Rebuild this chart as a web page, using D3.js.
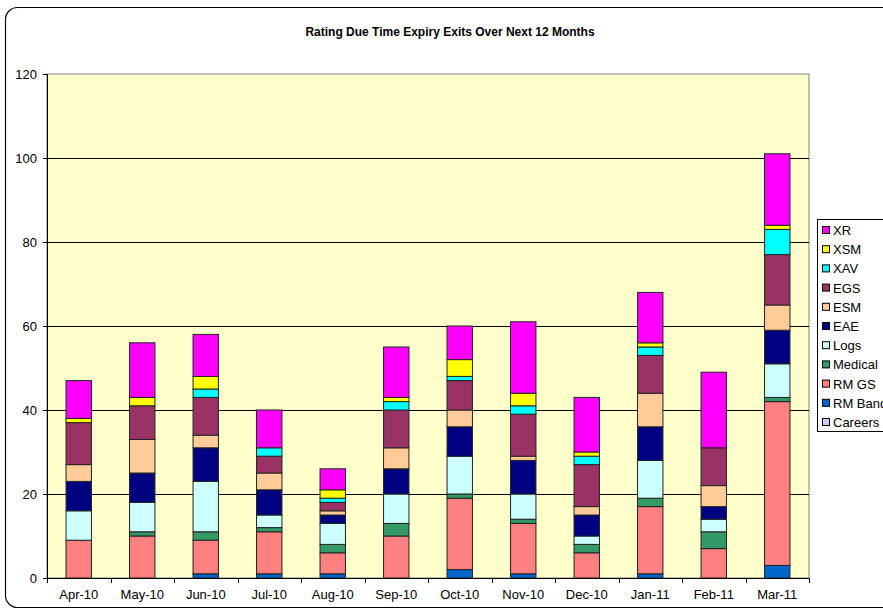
<!DOCTYPE html>
<html>
<head>
<meta charset="utf-8">
<script src="https://cdnjs.cloudflare.com/ajax/libs/d3/7.8.5/d3.min.js"></script>
<style>
  body { margin: 0; background: #fff; }
  svg { display: block; font-family: Arial, "Liberation Sans", sans-serif; }
</style>
</head>
<body>
<svg></svg>
<script>
// данные графика
const months = ["Apr-10", "May-10", "Jun-10", "Jul-10", "Aug-10", "Sep-10",
                "Oct-10", "Nov-10", "Dec-10", "Jan-11", "Feb-11", "Mar-11"];

// серии снизу вверх
const careers = [0, 0, 0, 0, 0, 0, 0, 0, 0, 0, 0, 0];
const rmBand  = [0, 0, 1, 1, 1, 0, 2, 1, 0, 1, 0, 3];
const rmGs    = [9, 10, 8, 10, 5, 10, 17, 12, 6, 16, 7, 39];
const medical = [0, 1, 2, 1, 2, 3, 1, 1, 2, 2, 4, 1];
const logs    = [7, 7, 12, 3, 5, 7, 9, 6, 2, 9, 3, 8];
const eae     = [7, 7, 8, 6, 2, 6, 7, 8, 5, 8, 3, 8];
const esm     = [4, 8, 3, 4, 1, 5, 4, 1, 2, 8, 5, 6];
const egs     = [10, 8, 9, 4, 2, 9, 7, 10, 10, 9, 9, 12];
const xav     = [0, 0, 2, 2, 1, 2, 1, 2, 2, 2, 0, 6];
const xsm     = [1, 2, 3, 0, 2, 1, 4, 3, 1, 1, 0, 1];
const xr      = [9, 13, 10, 9, 5, 12, 8, 17, 13, 12, 18, 17];

const yTicks = [0, 20, 40, 60, 80, 100, 120];

const series = [
  {name: "Careers", values: careers, color: "#CCCCFF"},
  {name: "RM Band", values: rmBand,  color: "#0066CC"},
  {name: "RM GS",   values: rmGs,    color: "#FF8080"},
  {name: "Medical", values: medical, color: "#339966"},
  {name: "Logs",    values: logs,    color: "#CCFFFF"},
  {name: "EAE",     values: eae,     color: "#000080"},
  {name: "ESM",     values: esm,     color: "#FFCC99"},
  {name: "EGS",     values: egs,     color: "#993366"},
  {name: "XAV",     values: xav,     color: "#00FFFF"},
  {name: "XSM",     values: xsm,     color: "#FFFF00"},
  {name: "XR",      values: xr,      color: "#FF00FF"}
];

const width = 883;
const height = 610;
let svg = d3.select("svg")
    .attr("width", width)
    .attr("height", height);

// рамка диаграммы (уходит за правый край)
svg.append("rect")
    .attr("x", 5.5).attr("y", 7.5)
    .attr("width", 910).attr("height", 600)
    .attr("rx", 12)
    .style("fill", "#fff")
    .style("stroke", "#000")
    .style("stroke-width", 1.2);

// заголовок
svg.append("text")
    .attr("x", 450).attr("y", 36)
    .attr("text-anchor", "middle")
    .style("font-size", "12px")
    .style("font-weight", "bold")
    .text("Rating Due Time Expiry Exits Over Next 12 Months");

const plot = {left: 47, top: 74, right: 809, bottom: 578};

let x = d3.scaleBand()
    .domain(months)
    .range([plot.left, plot.right])
    .paddingInner(0.6)
    .paddingOuter(0.3);

let y = d3.scaleLinear()
    .domain([0, 120])
    .range([plot.bottom, plot.top]);

// фон области построения
svg.append("rect")
    .attr("x", plot.left).attr("y", plot.top)
    .attr("width", plot.right - plot.left)
    .attr("height", plot.bottom - plot.top)
    .style("fill", "#FFFFCC")
    .style("stroke", "#808080")
    .style("stroke-width", 1);

// линии сетки
svg.append("g")
    .selectAll("line")
    .data(yTicks.filter(d => d > 0 && d < 120))
    .join("line")
    .attr("x1", plot.left).attr("x2", plot.right)
    .attr("y1", d => Math.round(y(d)) + 0.5)
    .attr("y2", d => Math.round(y(d)) + 0.5)
    .style("stroke", "#000")
    .style("stroke-width", 1);

// стек
const table = months.map((m, i) => {
  let row = {month: m};
  series.forEach(s => row[s.name] = s.values[i]);
  return row;
});
const stacked = d3.stack().keys(series.map(s => s.name))(table);

svg.append("g")
    .selectAll("g")
    .data(stacked)
    .join("g")
    .style("fill", (d, i) => series[i].color)
    .selectAll("rect")
    .data(d => d.filter(p => p[1] - p[0] > 0))
    .join("rect")
    .attr("x", d => x(d.data.month))
    .attr("y", d => y(d[1]))
    .attr("width", x.bandwidth())
    .attr("height", d => y(d[0]) - y(d[1]))
    .style("stroke", "#222")
    .style("stroke-width", 1);

// ось Y
let yAxis = d3.axisLeft(y)
    .tickValues(yTicks)
    .tickSize(4)
    .tickPadding(6);
let gy = svg.append("g")
    .attr("transform", `translate(${plot.left},0)`)
    .call(yAxis);
gy.selectAll("text").style("font-size", "13px").style("fill", "#000").attr("font-family", null);
gy.selectAll("line, path").style("stroke", "#000");

// ось X
let xAxis = d3.axisBottom(x).tickSize(0).tickPadding(12);
let gx = svg.append("g")
    .attr("transform", `translate(0,${plot.bottom})`)
    .call(xAxis);
gx.selectAll("text").style("font-size", "13px").style("fill", "#000").attr("font-family", null);
gx.select("path").style("stroke", "#000");

// засечки между категориями
const step = x.step();
svg.append("g")
    .selectAll("line")
    .data(d3.range(months.length + 1))
    .join("line")
    .attr("x1", i => Math.round(plot.left + i * step) + 0.5)
    .attr("x2", i => Math.round(plot.left + i * step) + 0.5)
    .attr("y1", plot.bottom)
    .attr("y2", plot.bottom + 5)
    .style("stroke", "#000");

// легенда
let legend = svg.append("g");
legend.append("rect")
    .attr("x", 817.5).attr("y", 219.5)
    .attr("width", 80).attr("height", 212)
    .style("fill", "#fff")
    .style("stroke", "#000");

const legendItems = series.slice().reverse();
let items = legend.selectAll("g")
    .data(legendItems)
    .join("g")
    .attr("transform", (d, i) => `translate(822, ${230 + i * 19.2})`);
items.append("rect")
    .attr("x", 0.5).attr("y", -3.5)
    .attr("width", 7).attr("height", 7)
    .style("fill", d => d.color)
    .style("stroke", "#000");
items.append("text")
    .attr("x", 11).attr("y", 5)
    .style("font-size", "13px")
    .text(d => d.name);
</script>
</body>
</html>
